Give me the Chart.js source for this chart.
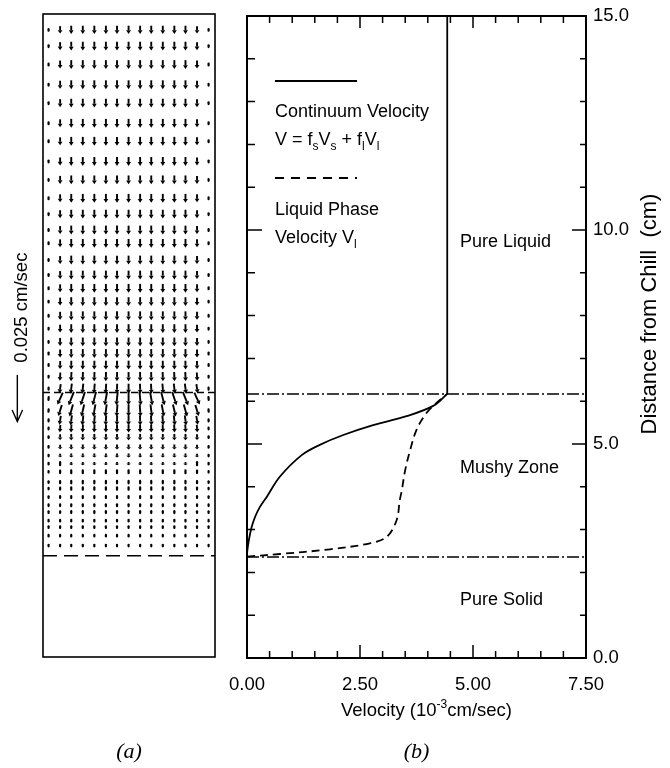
<!DOCTYPE html>
<html>
<head>
<meta charset="utf-8">
<script src="https://cdn.jsdelivr.net/npm/chart.js@4.4.1/dist/chart.umd.min.js"></script>
<style>
  body { margin: 0; background: #fff; }
  #wrap { position: relative; width: 670px; height: 768px; background: #fff; }
  #fieldChart { position: absolute; left: 0; top: 0; width: 230px; height: 768px; }
  #profileChart { position: absolute; left: 222px; top: 0; width: 448px; height: 768px; }
</style>
</head>
<body>
<div id="wrap">
  <canvas id="fieldChart" width="230" height="768"></canvas>
  <canvas id="profileChart" width="448" height="768"></canvas>
</div>
<script>
// (b) profils de vitesse : x en 10^-3 cm/sec, y en cm depuis la paroi froide
const contVelocity = [0.00, 0.04, 0.10, 0.18, 0.28, 0.44, 0.73, 1.21, 1.61, 2.13, 2.79, 3.53, 4.12, 4.43];
const contDistance = [2.45, 2.75, 3.05, 3.30, 3.52, 3.77, 4.24, 4.74, 4.98, 5.21, 5.44, 5.65, 5.89, 6.17];
const liquidVelocity = [4.43, 4.43];
const liquidDistance = [6.17, 15.0];
const phaseVelocity = [0.00, 0.73, 1.84, 2.72, 3.09, 3.31, 3.38, 3.42, 3.50, 3.61, 3.75, 3.94, 4.12, 4.43];
const phaseDistance = [2.37, 2.43, 2.54, 2.68, 2.83, 3.22, 3.69, 3.89, 4.39, 4.86, 5.33, 5.68, 5.89, 6.17];
const liquidus = 6.17;
const solidus = 2.36;

// graduations
const xMajorTicks = [0, 2.5, 5, 7.5];
const xMinorTicks = [0.5, 1, 1.5, 2, 3, 3.5, 4, 4.5, 5.5, 6, 6.5, 7];
const yMajorTicks = [0, 5, 10, 15];
const yMinorTicks = [1, 2, 3, 4, 6, 7, 8, 9, 11, 12, 13, 14];

// (a) champ de vecteurs : colonnes (cm), rangées (cm), vitesse par rangée (10^-3 cm/sec)
const fieldX = [0.13, 0.40, 0.66, 0.93, 1.20, 1.47, 1.73, 2.00, 2.27, 2.53, 2.80, 3.07, 3.33, 3.60, 3.87];
const colWall = [0.2, 0.9, 1, 1, 1, 1, 1, 1, 1, 1, 1, 1, 1, 0.9, 0.2];
const colLean = [-0.1, -0.45, -0.4, -0.33, -0.26, -0.18, -0.1, 0, 0.1, 0.18, 0.26, 0.33, 0.4, 0.45, 0.1];
const fieldY = [14.63, 14.25, 13.82, 13.35, 12.92, 12.45, 12.03, 11.56, 11.13, 10.70, 10.33, 9.96, 9.65, 9.26,
  8.91, 8.60, 8.29, 7.96, 7.66, 7.35, 7.08, 6.81, 6.54, 6.26, 6.03, 5.75, 5.52, 5.33, 5.13, 4.90, 4.70,
  4.51, 4.32, 4.08, 3.93, 3.73, 3.54, 3.38, 3.18, 3.03, 2.83, 2.60];
const rowSpeed = [4.5, 4.8, 4.8, 4.8, 4.8, 4.8, 4.8, 4.8, 4.8, 4.8, 4.8, 4.8, 4.8, 4.8,
  4.8, 4.8, 4.8, 4.8, 4.8, 4.8, 4.8, 4.8, 5.0, 5.4, 7.2, 6.6, 5.4, 4.4, 3.4, 2.7, 2.2,
  1.8, 1.5, 1.3, 1.2, 1.1, 1.0, 1.0, 0.9, 0.9, 0.8, 0.8];
const rowLean = [0, 0, 0, 0, 0, 0, 0, 0, 0, 0, 0, 0, 0, 0,
  0, 0, 0, 0, 0, 0, 0, 0.05, 0.12, 0.3, 1.0, 0.7, 0.35, 0.15, 0, 0, 0,
  0, 0, 0, 0, 0, 0, 0, 0, 0, 0, 0];
const scaleArrowSpeed = 25; // 0.025 cm/sec

const arrowScale = 0.043; // cm de dessin par 10^-3 cm/sec
const SANS = '"Liberation Sans", Arial, sans-serif';
const SERIF = '"Liberation Serif", "Times New Roman", serif';

const toPts = (xs, ys) => xs.map((v, i) => ({ x: v, y: ys[i] }));

let fieldPts = [];
fieldY.forEach((yv, j) => {
  fieldX.forEach((xv, i) => {
    const v = rowSpeed[j] * colWall[i];
    fieldPts.push({ x: xv, y: yv, u: colLean[i] * rowLean[j] * v, v: v });
  });
});

function drawArrow(ctx, x0, y0, x1, y1) {
  const dx = x1 - x0, dy = y1 - y0;
  const len = Math.hypot(dx, dy);
  if (len < 3.2) {
    // petites vitesses : juste un point allongé
    const k = Math.max(len, 1.6) / (len || 1);
    const mx = (x0 + x1) / 2, my = (y0 + y1) / 2;
    ctx.lineWidth = 2.2;
    ctx.lineCap = 'round';
    ctx.beginPath();
    ctx.moveTo(mx - dx * k / 2, my - dy * k / 2 - (len ? 0 : 0.8));
    ctx.lineTo(mx + dx * k / 2, my + dy * k / 2 + (len ? 0 : 0.8));
    ctx.stroke();
    return;
  }
  const ux = dx / len, uy = dy / len;
  const h = Math.min(3.8, len * 0.45);
  ctx.lineWidth = 1.9;
  ctx.lineCap = 'butt';
  ctx.beginPath();
  ctx.moveTo(x0, y0);
  ctx.lineTo(x1 - ux * h, y1 - uy * h);
  ctx.stroke();
  ctx.beginPath();
  ctx.moveTo(x1, y1);
  ctx.lineTo(x1 - ux * h - uy * 2.4, y1 - uy * h + ux * 2.4);
  ctx.lineTo(x1 - ux * h + uy * 2.4, y1 - uy * h - ux * 2.4);
  ctx.closePath();
  ctx.fill();
}

function drawRich(ctx, x, y, parts, size) {
  let cx = x;
  parts.forEach(p => {
    const s = p.sub || p.sup ? Math.round(size * 0.65) : size;
    ctx.font = s + 'px ' + SANS;
    const dy = p.sub ? size * 0.28 : p.sup ? -size * 0.45 : 0;
    ctx.fillText(p.t, cx, y + dy);
    cx += ctx.measureText(p.t).width;
  });
  return cx - x;
}

function richWidth(ctx, parts, size) {
  let w = 0;
  parts.forEach(p => {
    const s = p.sub || p.sup ? Math.round(size * 0.65) : size;
    ctx.font = s + 'px ' + SANS;
    w += ctx.measureText(p.t).width;
  });
  return w;
}

// ---- panneau (a)
const fieldDecor = {
  id: 'fieldDecor',
  afterDatasetsDraw(chart) {
    const { ctx, chartArea: a, scales: { x, y } } = chart;
    ctx.save();
    ctx.strokeStyle = '#000';
    ctx.fillStyle = '#000';
    chart.data.datasets[0].data.forEach(p => {
      const x0 = x.getPixelForValue(p.x - p.u * arrowScale / 2);
      const y0 = y.getPixelForValue(p.y + p.v * arrowScale / 2);
      const x1 = x.getPixelForValue(p.x + p.u * arrowScale / 2);
      const y1 = y.getPixelForValue(p.y - p.v * arrowScale / 2);
      drawArrow(ctx, x0, y0, x1, y1);
    });

    ctx.lineWidth = 1.6;
    ctx.strokeRect(a.left, a.top, a.right - a.left, a.bottom - a.top);

    // flèche d'échelle
    const sx = x.getPixelForValue(-0.6);
    const sTop = y.getPixelForValue(6.57);
    const sBot = y.getPixelForValue(6.57 - scaleArrowSpeed * arrowScale);
    ctx.lineWidth = 1.4;
    ctx.beginPath();
    ctx.moveTo(sx, sTop);
    ctx.lineTo(sx, sBot);
    ctx.moveTo(sx - 5, sBot - 11);
    ctx.lineTo(sx, sBot);
    ctx.lineTo(sx + 5, sBot - 11);
    ctx.stroke();

    ctx.save();
    ctx.translate(a.left - 16, y.getPixelForValue(8.15));
    ctx.rotate(-Math.PI / 2);
    ctx.font = '18.5px ' + SANS;
    ctx.textAlign = 'center';
    ctx.textBaseline = 'alphabetic';
    ctx.fillText('0.025 cm/sec', 0, 0);
    ctx.restore();

    ctx.font = 'italic 22px ' + SERIF;
    ctx.textAlign = 'center';
    ctx.fillText('(a)', (a.left + a.right) / 2, 758);
    ctx.restore();
  }
};

new Chart(document.getElementById('fieldChart'), {
  type: 'scatter',
  data: {
    datasets: [
      { data: fieldPts, pointRadius: 0, showLine: false },
      { data: [{ x: 0, y: liquidus }, { x: 4.02, y: liquidus }], showLine: true, pointRadius: 0,
        borderColor: '#000', borderWidth: 1.3, borderDash: [7, 4] },
      { data: [{ x: 0, y: solidus }, { x: 4.02, y: solidus }], showLine: true, pointRadius: 0,
        borderColor: '#000', borderWidth: 1.5, borderDash: [14, 7] }
    ]
  },
  options: {
    responsive: false,
    animation: false,
    devicePixelRatio: 1,
    layout: { padding: { left: 43, right: 15, top: 14, bottom: 111 } },
    plugins: { legend: { display: false }, tooltip: { enabled: false } },
    scales: {
      x: { type: 'linear', min: 0, max: 4.02, display: false },
      y: { type: 'linear', min: 0, max: 15, display: false }
    }
  },
  plugins: [fieldDecor]
});

// ---- panneau (b)
const profileDecor = {
  id: 'profileDecor',
  afterDatasetsDraw(chart) {
    const { ctx, chartArea: a, scales: { x, y } } = chart;
    ctx.save();
    ctx.strokeStyle = '#000';
    ctx.fillStyle = '#000';

    ctx.lineWidth = 2;
    ctx.strokeRect(a.left, a.top, a.right - a.left, a.bottom - a.top);

    // graduations vers l'intérieur
    ctx.lineWidth = 1.5;
    ctx.beginPath();
    const xt = (v, big) => {
      const px = x.getPixelForValue(v);
      ctx.moveTo(px, a.bottom); ctx.lineTo(px, a.bottom - (big ? 13 : 7));
      ctx.moveTo(px, a.top); ctx.lineTo(px, a.top + (big ? 12 : 7));
    };
    const yt = (v, big) => {
      const py = y.getPixelForValue(v);
      ctx.moveTo(a.left, py); ctx.lineTo(a.left + (big ? 15 : 8), py);
      ctx.moveTo(a.right, py); ctx.lineTo(a.right - (big ? 14 : 6), py);
    };
    xMajorTicks.forEach(v => xt(v, true));
    xMinorTicks.forEach(v => xt(v, false));
    yMajorTicks.forEach(v => yt(v, true));
    yMinorTicks.forEach(v => yt(v, false));
    ctx.stroke();

    // légende dans le cadre
    const lx = a.left + 28;
    ctx.lineWidth = 1.8;
    ctx.beginPath();
    ctx.moveTo(lx, a.top + 65); ctx.lineTo(lx + 82, a.top + 65);
    ctx.stroke();
    ctx.setLineDash([9, 7]);
    ctx.beginPath();
    ctx.moveTo(lx, a.top + 162); ctx.lineTo(lx + 82, a.top + 162);
    ctx.stroke();
    ctx.setLineDash([]);

    ctx.textAlign = 'left';
    ctx.textBaseline = 'alphabetic';
    ctx.font = '18px ' + SANS;
    ctx.fillText('Continuum Velocity', lx, a.top + 101);
    drawRich(ctx, lx, a.top + 129, [
      { t: 'V = f' }, { t: 's', sub: true }, { t: 'V' }, { t: 's', sub: true },
      { t: ' + f' }, { t: 'l', sub: true }, { t: 'V' }, { t: 'l', sub: true }
    ], 18);
    ctx.font = '18px ' + SANS;
    ctx.fillText('Liquid Phase', lx, a.top + 199);
    drawRich(ctx, lx, a.top + 227, [{ t: 'Velocity V' }, { t: 'l', sub: true }], 18);

    // zones
    ctx.font = '18px ' + SANS;
    const zx = x.getPixelForValue(4.71);
    ctx.fillText('Pure Liquid', zx, y.getPixelForValue(9.60));
    ctx.fillText('Mushy Zone', zx, y.getPixelForValue(4.32));
    ctx.fillText('Pure Solid', zx, y.getPixelForValue(1.24));

    // titre de l'axe x avec exposant
    const xParts = [{ t: 'Velocity (10' }, { t: '-3', sup: true }, { t: 'cm/sec)' }];
    const w = richWidth(ctx, xParts, 18.5);
    drawRich(ctx, (a.left + a.right) / 2 + 10 - w / 2, 716, xParts, 18.5);

    // titre de l'axe y, lu de bas en haut
    ctx.save();
    ctx.translate(a.right + 70, 314);
    ctx.rotate(-Math.PI / 2);
    ctx.font = '22px ' + SANS;
    ctx.textAlign = 'center';
    ctx.fillText('Distance from Chill  (cm)', 0, 0);
    ctx.restore();

    ctx.font = 'italic 22px ' + SERIF;
    ctx.textAlign = 'center';
    ctx.fillText('(b)', (a.left + a.right) / 2, 758);
    ctx.restore();
  }
};

const lineStyle = { showLine: true, pointRadius: 0, borderColor: '#000', borderWidth: 1.8 };

new Chart(document.getElementById('profileChart'), {
  type: 'scatter',
  data: {
    datasets: [
      { ...lineStyle, data: toPts(liquidVelocity, liquidDistance), tension: 0 },
      { ...lineStyle, data: toPts(contVelocity, contDistance), tension: 0.35 },
      { ...lineStyle, data: toPts(phaseVelocity, phaseDistance), tension: 0.35, borderDash: [8, 5] },
      { ...lineStyle, data: toPts([0, 7.5], [liquidus, liquidus]), borderWidth: 1.5, borderDash: [12, 3, 2, 3] },
      { ...lineStyle, data: toPts([0, 7.5], [solidus, solidus]), borderWidth: 1.5, borderDash: [12, 3, 2, 3] }
    ]
  },
  options: {
    responsive: false,
    animation: false,
    devicePixelRatio: 1,
    layout: { padding: { left: 25, right: 0, top: 16, bottom: 0 } },
    plugins: { legend: { display: false }, tooltip: { enabled: false } },
    scales: {
      x: {
        type: 'linear', min: 0, max: 7.5,
        grid: { display: false, drawTicks: false },
        border: { display: false },
        afterBuildTicks: s => { s.ticks = xMajorTicks.map(v => ({ value: v })); },
        afterFit: s => { s.height = 110; s.paddingLeft = 0; s.paddingRight = 0; },
        ticks: {
          callback: v => Number(v).toFixed(2), color: '#000', padding: 16,
          maxRotation: 0, autoSkip: false, font: { family: SANS, size: 18.5 }
        }
      },
      y: {
        type: 'linear', position: 'right', min: 0, max: 15,
        grid: { display: false, drawTicks: false },
        border: { display: false },
        afterBuildTicks: s => { s.ticks = yMajorTicks.map(v => ({ value: v })); },
        afterFit: s => { s.width = 84; s.paddingTop = 0; s.paddingBottom = 0; },
        ticks: {
          callback: v => Number(v).toFixed(1), color: '#000', padding: 7,
          autoSkip: false, font: { family: SANS, size: 18.5 }
        }
      }
    }
  },
  plugins: [profileDecor]
});
</script>
</body>
</html>
